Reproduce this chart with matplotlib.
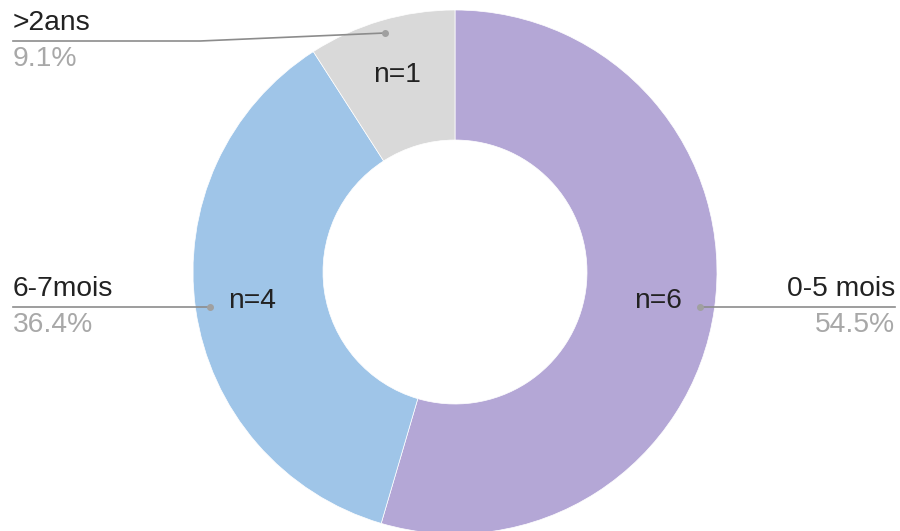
import matplotlib
matplotlib.use("Agg")
import matplotlib.pyplot as plt
from matplotlib.patches import Wedge
import numpy as np

plt.rcParams['font.family'] = ['Liberation Sans', 'DejaVu Sans']

categories = ["0-5 mois", "6-7mois", ">2ans"]
counts = [6, 4, 1]
colors = ["#b4a7d6", "#9fc5e8", "#d9d9d9"]

fig = plt.figure(figsize=(9, 5.31), dpi=100)
ax = fig.add_axes([0, 0, 1, 1])
ax.set_xlim(0, 900)
ax.set_ylim(531, 0)
ax.set_aspect('equal')
ax.axis('off')

cx, cy = 455, 272
r_out, r_in = 262, 132
total = sum(counts)
pcts = [c / total * 100 for c in counts]

# wedges drawn clockwise from 12 o'clock (y axis inverted -> angles measured clockwise from +x)
start = -90.0
mids = []
for c, col in zip(counts, colors):
    sweep = c / total * 360
    w = Wedge((cx, cy), r_out, start, start + sweep, width=r_out - r_in,
              facecolor=col, edgecolor='white', linewidth=0.5)
    ax.add_patch(w)
    mids.append(np.deg2rad(start + sweep / 2))
    start += sweep

fs = 20.3
line_col = "#8c8c8c"
pct_col = "#a8a8a8"
txt_col = "#222222"

# count labels inside each ring segment
r_lab = 205
for c, m in zip(counts, mids):
    px, py = cx + r_lab * np.cos(m), cy + r_lab * np.sin(m)
    ax.text(px, py, f"n={c}", ha='center', va='center', fontsize=fs, color=txt_col)

# leader lines and outer labels
r_dot = 248
for i, (cat, p, m) in enumerate(zip(categories, pcts, mids)):
    dx, dy = cx + r_dot * np.cos(m), cy + r_dot * np.sin(m)
    right = np.cos(m) > 0
    if i == 2:
        dx, dy = 385, 33
        ly = 41
    else:
        ly = dy
    ex = 895 if right else 13
    if i == 2:
        ax.plot([dx, 200, ex], [dy, ly, ly], color=line_col, lw=1.2)
    else:
        ax.plot([dx, ex], [dy, ly], color=line_col, lw=1.2)
    ax.plot([dx], [dy], 'o', color="#a0a0a0", ms=4)
    ha = 'right' if right else 'left'
    ax.text(ex, ly - 5, cat, ha=ha, va='bottom', fontsize=fs, color=txt_col)
    ax.text(ex, ly + 5, f"{p:.1f}%", ha=ha, va='top', fontsize=fs, color=pct_col)

fig.savefig("out.png", dpi=100, facecolor='white')
